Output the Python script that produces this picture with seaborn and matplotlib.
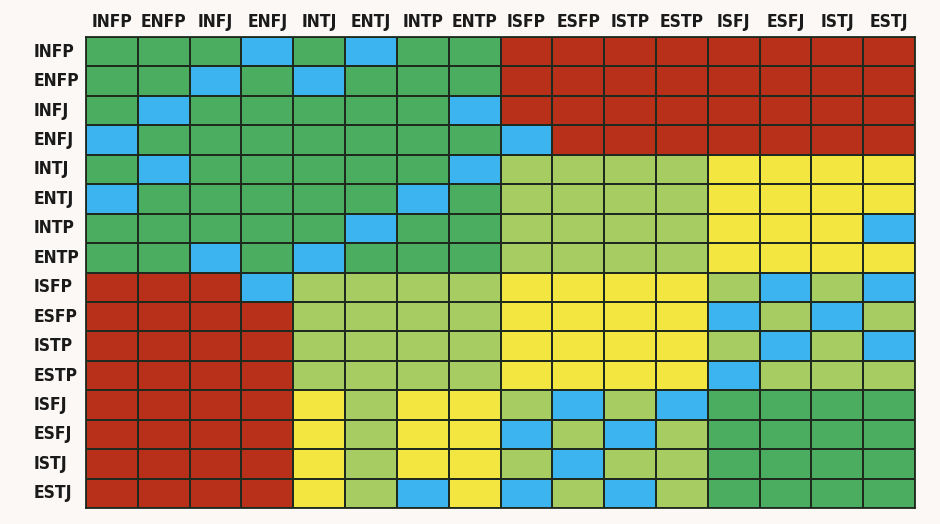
import numpy as np
import pandas as pd
import matplotlib
matplotlib.use('Agg')
import matplotlib.pyplot as plt
import seaborn as sns
from matplotlib.colors import ListedColormap

# MBTI types, same order on both axes
types = ['INFP', 'ENFP', 'INFJ', 'ENFJ', 'INTJ', 'ENTJ', 'INTP', 'ENTP',
         'ISFP', 'ESFP', 'ISTP', 'ESTP', 'ISFJ', 'ESFJ', 'ISTJ', 'ESTJ']

# codes: R=red, L=light green, Y=yellow, B=blue, G=dark green
rows = [
    'GGGBGBGG' + 'RRRRRRRR',
    'GGBGBGGG' + 'RRRRRRRR',
    'GBGGGGGB' + 'RRRRRRRR',
    'BGGGGGGG' + 'BRRRRRRR',
    'GBGGGGGB' + 'LLLLYYYY',
    'BGGGGGBG' + 'LLLLYYYY',
    'GGGGGBGG' + 'LLLLYYYB',
    'GGBGBGGG' + 'LLLLYYYY',
    'RRRBLLLL' + 'YYYYLBLB',
    'RRRRLLLL' + 'YYYYBLBL',
    'RRRRLLLL' + 'YYYYLBLB',
    'RRRRLLLL' + 'YYYYBLLL',
    'RRRRYLYY' + 'LBLBGGGG',
    'RRRRYLYY' + 'BLBLGGGG',
    'RRRRYLYY' + 'LBLLGGGG',
    'RRRRYLBY' + 'BLBLGGGG',
]
codes = ['R', 'L', 'Y', 'B', 'G']
colors = ['#b9301a', '#a7cd62', '#f3e640', '#3bb4ef', '#4bad60']

matrix = np.array([[codes.index(c) for c in r] for r in rows])
df = pd.DataFrame(matrix, index=types, columns=types)

fig = plt.figure(figsize=(9.4, 5.24), dpi=100, facecolor='#fbf8f5')
ax = fig.add_axes([0.0915, 0.0305, 0.8819, 0.8989])

sns.heatmap(df, ax=ax, cmap=ListedColormap(colors), vmin=-0.5, vmax=4.5,
            cbar=False, linewidths=1.3, linecolor='#1f2a1f', square=False)

for side in ax.spines.values():
    side.set_visible(True)
    side.set_color('#1f2a1f')
    side.set_linewidth(1.3)

label_font = dict(fontsize=12.5, fontweight='bold', fontstretch='condensed',
                  family='DejaVu Sans', color='#1a1a1a')

ax.xaxis.tick_top()
ax.tick_params(length=0)
ax.tick_params(axis='x', pad=4)
ax.tick_params(axis='y', pad=38)
ax.set_xticklabels(types, rotation=0, **label_font)
ax.set_yticklabels(types, rotation=0, ha='left', **label_font)
ax.set_xlabel('')
ax.set_ylabel('')

fig.savefig('out.png', dpi=100, facecolor=fig.get_facecolor())
